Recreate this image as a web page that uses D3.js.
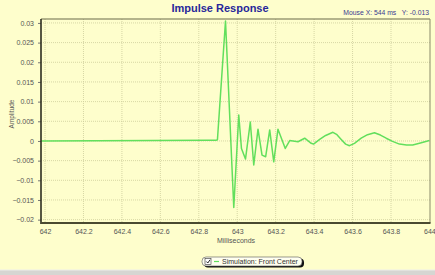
<!DOCTYPE html>
<html>
<head>
<meta charset="utf-8">
<script src="https://cdn.jsdelivr.net/npm/d3@7"></script>
<style>
  body { margin: 0; background: #fefecc; }
  svg { display: block; font-family: "Liberation Sans", Arial, sans-serif; }
</style>
</head>
<body>
<svg id="chart"></svg>
<script>
// Data
const timeMs = [641.98, 642.857, 642.892, 642.897, 642.939, 642.982, 643.008, 643.022, 643.043,
  643.068, 643.086, 643.108, 643.129, 643.148, 643.169, 643.190, 643.212, 643.250, 643.273,
  643.316, 643.351, 643.385, 643.397, 643.429, 643.460, 643.498, 643.519, 643.541, 643.564,
  643.584, 643.610, 643.645, 643.678, 643.714, 643.745, 643.775, 643.808, 643.844, 643.881,
  643.913, 643.953, 644.0];
const amplitude = [0, 0.0002, 0.0002, 0.0003, 0.0305, -0.0169, 0.0066, -0.0019, -0.0046,
  0.0048, -0.0061, 0.0030, -0.0036, -0.0040, 0.0028, -0.0053, 0.0030, -0.0019, 0.0001,
  -0.0002, 0.0007, -0.0006, -0.0008, 0.0004, 0.0014, 0.0022, 0.0016, 0.0004, -0.0008,
  -0.0012, -0.0006, 0.0007, 0.0016, 0.0021, 0.0015, 0.0007, -0.0001, -0.0008, -0.0010,
  -0.0010, -0.0005, 0.0001];
const xTicks = [642, 642.2, 642.4, 642.6, 642.8, 643, 643.2, 643.4, 643.6, 643.8, 644];
const yTicks = [0.03, 0.025, 0.02, 0.015, 0.01, 0.005, 0, -0.005, -0.01, -0.015, -0.02];
const seriesName = "Simulation: Front Center";

const width = 435, height = 275;
const margin = {left: 41, top: 19, right: 5, bottom: 52};

const svg = d3.select("#chart").attr("width", width).attr("height", height);

svg.append("rect").attr("width", width).attr("height", height).attr("fill", "#fefecc");

const x = d3.scaleLinear().domain([641.979, 644.003]).range([margin.left, width - margin.right]);
const y = d3.scaleLinear().domain([-0.02085, 0.031]).range([height - margin.bottom, margin.top]);

// grid
const grid = svg.append("g").attr("stroke", "#cdcd9a").attr("stroke-width", 0.8)
  .attr("stroke-dasharray", "1,1");
grid.selectAll(".vg").data(xTicks.slice(0, -1)).enter().append("line")
  .attr("x1", d => x(d)).attr("x2", d => x(d))
  .attr("y1", margin.top).attr("y2", height - margin.bottom);
grid.selectAll(".hg").data(yTicks).enter().append("line")
  .attr("x1", margin.left).attr("x2", width - margin.right)
  .attr("y1", d => y(d)).attr("y2", d => y(d));

// axes
const yAxis = d3.axisLeft(y).tickValues(yTicks).tickSize(3).tickFormat(d => d3.format("")(+d.toFixed(3)));
const xAxis = d3.axisBottom(x).tickValues(xTicks).tickSize(0).tickPadding(6).tickFormat(d => +d.toFixed(1));

const gy = svg.append("g").attr("transform", `translate(${margin.left},0)`).call(yAxis);
gy.select(".domain").remove();
gy.selectAll("line").attr("stroke", "#777");
gy.selectAll("text").attr("fill", "#555").style("font-size", "7px").attr("dx", "-1");

const gx = svg.append("g").attr("transform", `translate(0,${height - margin.bottom})`).call(xAxis);
gx.select(".domain").remove();
gx.selectAll("text").attr("fill", "#555").style("font-size", "7px");

// trace
const line = d3.line()
  .x((d, i) => x(timeMs[i]))
  .y(d => y(d));

svg.append("path").datum(amplitude)
  .attr("fill", "none").attr("stroke", "#62df5c").attr("stroke-width", 1.5)
  .attr("stroke-linejoin", "round")
  .attr("d", line);

// frame
const L = margin.left, R = width - margin.right, T = margin.top, B = height - margin.bottom;
svg.append("line").attr("x1", L).attr("x2", R).attr("y1", T).attr("y2", T).attr("stroke", "#6b6b4a").attr("stroke-width", 1);
svg.append("line").attr("x1", R).attr("x2", R).attr("y1", T).attr("y2", B).attr("stroke", "#8a8a6a").attr("stroke-width", 1);
svg.append("line").attr("x1", L).attr("x2", L).attr("y1", T).attr("y2", B + 1).attr("stroke", "#2d2d20").attr("stroke-width", 1.6);
svg.append("line").attr("x1", L).attr("x2", R + 0.5).attr("y1", B).attr("y2", B).attr("stroke", "#4a4a30").attr("stroke-width", 2);

// title + readout
svg.append("text").attr("x", 220).attr("y", 12).attr("text-anchor", "middle")
  .attr("fill", "#27279a").style("font-size", "11px").style("font-weight", "bold")
  .text("Impulse Response");
svg.append("text").attr("x", 429).attr("y", 15).attr("text-anchor", "end")
  .attr("fill", "#3a3a90").style("font-size", "6.8px").style("white-space", "pre")
  .text("Mouse X: 544 ms   Y: -0.013");

// axis titles
svg.append("text").attr("transform", "translate(14,114) rotate(-90)").attr("text-anchor", "middle")
  .attr("fill", "#555").style("font-size", "6.5px").text("Amplitude");
svg.append("text").attr("x", 236).attr("y", 243).attr("text-anchor", "middle")
  .attr("fill", "#555").style("font-size", "7px").text("Milliseconds");

// legend
const lg = svg.append("g");
lg.append("rect").attr("x", 204).attr("y", 258.5).attr("width", 100).attr("height", 9).attr("rx", 4)
  .attr("fill", "#111");
lg.append("rect").attr("x", 202).attr("y", 257).attr("width", 100).attr("height", 9).attr("rx", 4)
  .attr("fill", "#fffff0").attr("stroke", "#555").attr("stroke-width", 0.6);
lg.append("rect").attr("x", 205).attr("y", 258.5).attr("width", 6).attr("height", 6)
  .attr("fill", "#fff").attr("stroke", "#333").attr("stroke-width", 0.6);
lg.append("path").attr("d", "M206.3,261.5 L207.8,263 L210,259.8").attr("fill", "none")
  .attr("stroke", "#111").attr("stroke-width", 0.9);
lg.append("line").attr("x1", 214).attr("x2", 219).attr("y1", 261.5).attr("y2", 261.5)
  .attr("stroke", "#62df5c").attr("stroke-width", 1.2);
lg.append("text").attr("x", 222).attr("y", 264).attr("fill", "#333").style("font-size", "7px")
  .text(seriesName);

// bottom strip
svg.append("rect").attr("x", 0).attr("y", 270).attr("width", width).attr("height", 5).attr("fill", "#d6d6d2");
svg.append("line").attr("x1", 0).attr("x2", width).attr("y1", 270).attr("y2", 270).attr("stroke", "#eeeeea");
</script>
</body>
</html>
